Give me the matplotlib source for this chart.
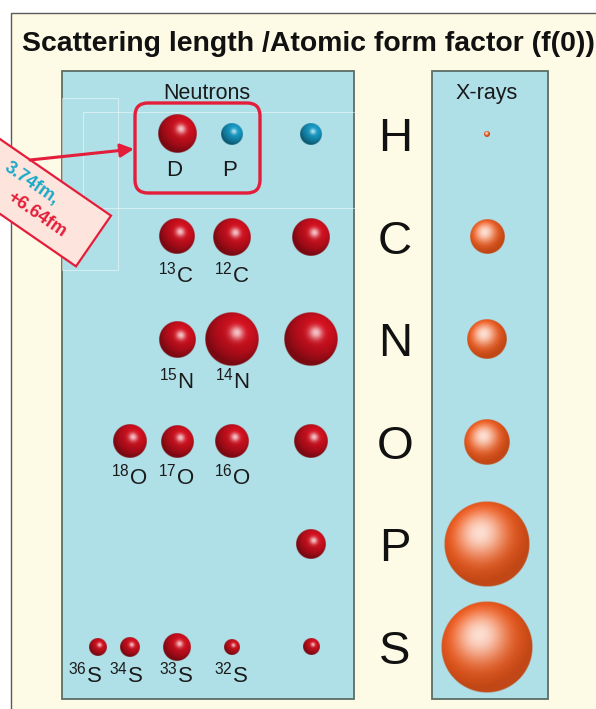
import numpy as np
import matplotlib
matplotlib.use("Agg")
from matplotlib import pyplot as plt
from matplotlib.patches import Rectangle, FancyBboxPatch, Polygon

plt.rcParams['font.family'] = ['Liberation Sans', 'DejaVu Sans']
plt.rcParams['mathtext.fontset'] = 'custom'
plt.rcParams['mathtext.rm'] = 'Liberation Sans'

# ---- data ----
elements = ["H", "C", "N", "O", "P", "S"]
xray_f0 = [1, 6, 7, 8, 15, 16]                     # f(0) ~ Z
natural_b = [-3.74, 6.65, 9.36, 5.80, 5.13, 2.85]   # fm, natural abundance

iso_element = ["H", "H", "C", "C", "N", "N", "O", "O", "O", "S", "S", "S", "S"]
iso_name = ["D", "P", "13", "12", "15", "14", "18", "17", "16", "36", "34", "33", "32"]
iso_b = [6.67, -3.74, 6.19, 6.65, 6.44, 9.37, 5.84, 5.78, 5.80, 3.00, 3.48, 4.74, 2.80]

callout_lines = ["3.74fm,", "+6.64fm"]

# ---- layout (pixel coords of a 596x709 canvas) ----
iso_col = [2, 3, 2, 3, 2, 3, 1, 2, 3, 0, 1, 2, 3]
label_dx = [-3, -2, -1, 0, -1, 0, -1, -1, 0, -13, -4, -1, -1]
col_x = [98, 130, 177, 232, 311]
xray_x = 487
row_y0, row_dy = 134, 102.6
label_base = {"H": 176, "C": 282, "N": 389, "O": 485, "S": 683}
scale = 2.85   # px per fm / per electron

CREAM = "#fdfae6"
PANEL = "#afdfe7"
EDGE = "#5d6e66"
RED = "#e41e3a"


def row_y(el):
    return row_y0 + row_dy * elements.index(el)


def sphere(ax, cx, cy, r, base, light, amb, shine, spec):
    n = 181
    g = np.linspace(-1, 1, n)
    X, Y = np.meshgrid(g, g)
    rho = np.sqrt(X**2 + Y**2)
    Z = np.sqrt(np.clip(1 - rho**2, 0, 1))
    L = np.array(light, float)
    L /= np.linalg.norm(L)
    diff = np.clip(X * L[0] + Y * L[1] + Z * L[2], 0, 1)
    H = L + np.array([0, 0, 1.0])
    H /= np.linalg.norm(H)
    sp = np.clip(X * H[0] + Y * H[1] + Z * H[2], 0, 1) ** shine
    c = np.array(matplotlib.colors.to_rgb(base))
    rgb = c[None, None, :] * (amb + (1 - amb) * diff)[..., None]
    rgb = rgb + spec * sp[..., None] * (1 - rgb)
    a = np.clip((1 - rho) * n / 2.5, 0, 1)
    img = np.dstack([np.clip(rgb, 0, 1), a])
    ax.imshow(img, extent=(cx - r, cx + r, cy + r, cy - r), origin="upper",
              interpolation="bilinear", zorder=5)


def neutron_ball(ax, cx, cy, b):
    r = scale * abs(b)
    if b > 0:
        sphere(ax, cx, cy, r, "#d4101f", (0.35, -0.45, 0.8), 0.58, 30, 0.75)
    else:
        sphere(ax, cx, cy, r, "#179dc9", (0.35, -0.45, 0.8), 0.58, 30, 0.7)


fig = plt.figure(figsize=(5.96, 7.09), dpi=100)
ax = fig.add_axes([0, 0, 1, 1])
ax.set_axis_off()
fig.patch.set_facecolor("white")

# background frame
ax.add_patch(Rectangle((11, 13), 600, 710, fc=CREAM, ec="#5a5a5a", lw=1.0, zorder=0))

ax.text(22, 51, "Scattering length /Atomic form factor (f(0))", fontsize=20.4,
        fontweight="bold", ha="left", va="baseline", color="#111111")

# panels
ax.add_patch(Rectangle((62, 71), 292, 628, fc=PANEL, ec=EDGE, lw=1.3, zorder=1))
ax.add_patch(Rectangle((432, 71), 116, 628, fc=PANEL, ec=EDGE, lw=1.3, zorder=1))
ax.text(207, 99, "Neutrons", fontsize=15.5, ha="center", va="baseline", color="#1a1a1a")
ax.text(xray_x, 99, "X-rays", fontsize=15.5, ha="center", va="baseline", color="#1a1a1a")

# faint paste-box lines
for (x0, y0, w, h) in [(62, 98, 56, 172), (83, 112, 272, 96)]:
    ax.add_patch(Rectangle((x0, y0), w, h, fill=False, ec="white", lw=0.7,
                           alpha=0.5, zorder=2))

# element letters + natural abundance + x-ray balls
for el, b, f0 in zip(elements, natural_b, xray_f0):
    y = row_y(el)
    ax.text(395, y + 17, el, fontsize=34, ha="center", va="baseline", color="#111111")
    neutron_ball(ax, col_x[4], y, b)
    sphere(ax, xray_x, y, scale * f0, "#f25a1c", (-0.3, -0.5, 0.8), 0.8, 6, 0.8)

# isotopes
for el, name, b, c, dx in zip(iso_element, iso_name, iso_b, iso_col, label_dx):
    y = row_y(el)
    x = col_x[c]
    neutron_ball(ax, x, y, b)
    lab = name if not name.isdigit() else r"$\mathregular{^{%s}%s}$" % (name, el)
    ax.text(x + dx, label_base[el], lab, fontsize=16, ha="center", va="baseline",
            color="#1a1a1a", zorder=6)

# red rounded box round D / P
ax.add_patch(FancyBboxPatch((135, 103), 125, 90, boxstyle="round,pad=0,rounding_size=13",
                            fill=False, ec=RED, lw=2.4, zorder=7))

# callout
ang = np.deg2rad(34.6)
u = np.array([np.cos(ang), np.sin(ang)])
v = np.array([-np.sin(ang), np.cos(ang)])
mid = np.array([93.5, 241.0])
half = 30.8
corners = [mid - v * half, mid + v * half, mid + v * half - u * 260, mid - v * half - u * 260]
ax.add_patch(Polygon(corners, closed=True, fc="#fde4dc", ec=RED, lw=1.6, zorder=8))
p1 = mid - u * 53 - v * 12
p2 = mid - u * 28 + v * 11
ax.text(p1[0], p1[1], callout_lines[0], fontsize=13, fontweight="bold", color="#19a9c6",
        rotation=-34.6, rotation_mode="anchor", ha="right", va="center", zorder=9)
ax.text(p2[0], p2[1], callout_lines[1], fontsize=13, fontweight="bold", color=RED,
        rotation=-34.6, rotation_mode="anchor", ha="right", va="center", zorder=9)
ax.annotate("", xy=(134, 149), xytext=(30, 160),
            arrowprops=dict(arrowstyle="-|>", color=RED, lw=2.2, mutation_scale=20,
                            shrinkA=0, shrinkB=0), zorder=9)

ax.set_xlim(0, 596)
ax.set_ylim(709, 0)
ax.set_aspect("auto")
fig.savefig("out.png", dpi=100, facecolor=fig.get_facecolor())
